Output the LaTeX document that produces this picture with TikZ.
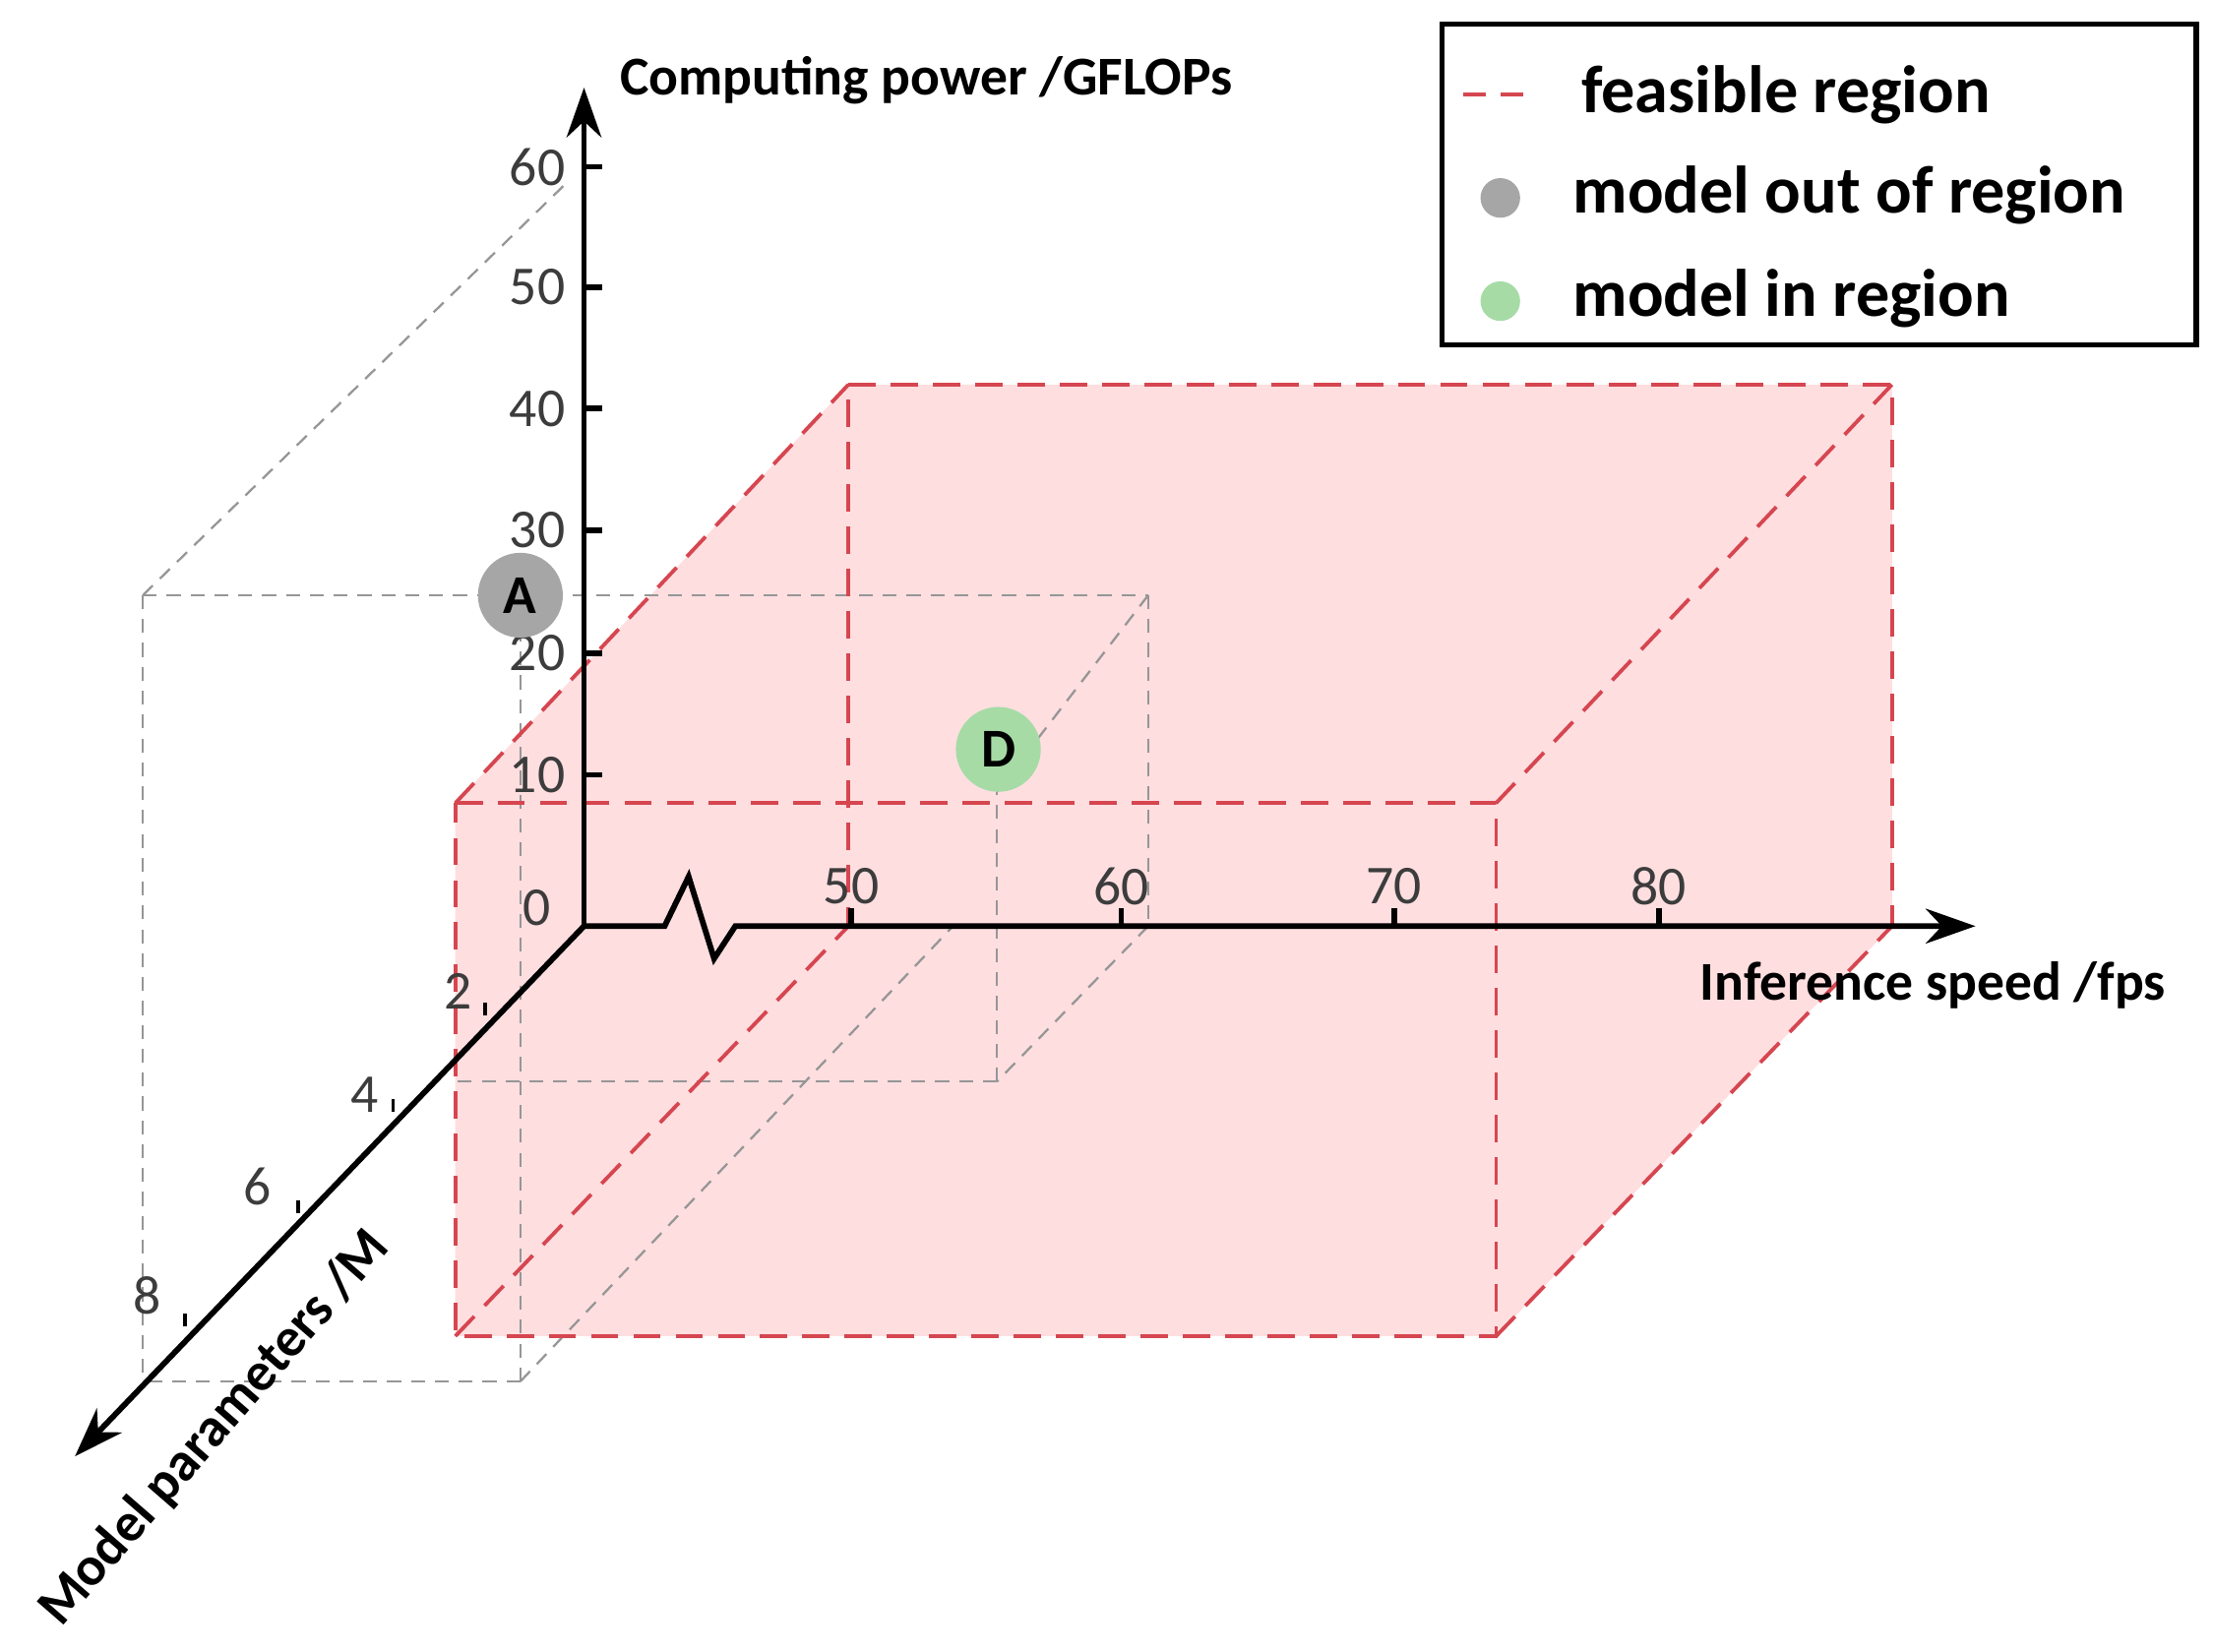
\documentclass[tikz,border=0pt]{standalone}
\usepackage{fontspec}
\setmainfont{Carlito}
\usetikzlibrary{arrows.meta}
\definecolor{regionred}{RGB}{214,70,80}
\definecolor{regionfill}{RGB}{255,222,224}
\definecolor{guidegray}{RGB}{150,150,150}
\definecolor{ticktext}{RGB}{60,60,60}
\begin{document}
\begin{tikzpicture}[x=0.01cm,y=-0.01cm,
    axis/.style={line width=1.15pt,draw=black},
    region/.style={draw=regionred,line width=0.75pt,dash pattern=on 5.5pt off 3pt},
    guide/.style={draw=guidegray,line width=0.45pt,dash pattern=on 2.8pt off 2pt},
    tick/.style={font=\fontsize{11}{13}\selectfont,text=ticktext},
    axislabel/.style={font=\fontsize{11}{13}\selectfont\bfseries},
    legendtext/.style={font=\fontsize{13.5}{16}\selectfont\bfseries,anchor=west},
    model/.style={circle,minimum size=0.6cm,inner sep=0pt,font=\fontsize{11}{13}\selectfont\bfseries}]
    \useasboundingbox (0,0) rectangle (1565,1168);

    % feasible region
    \coordinate (f1) at (322,568);
    \coordinate (f2) at (1058,568);
    \coordinate (f3) at (1058,945);
    \coordinate (f4) at (322,945);
    \coordinate (b1) at (600,272);
    \coordinate (b2) at (1338,272);
    \coordinate (b3) at (1338,655);
    \coordinate (b4) at (600,655);
    \fill[regionfill] (f1) -- (b1) -- (b2) -- (b3) -- (f3) -- (f4) -- cycle;

    % guide lines
    \coordinate (g1) at (101,421);
    \coordinate (g2) at (812,421);
    \coordinate (g3) at (812,655);
    \coordinate (g4) at (705,765);
    \coordinate (g5) at (320,765);
    \coordinate (g6) at (101,977);
    \coordinate (g7) at (368,977);
    \coordinate (g8) at (674,655);
    \coordinate (g9) at (400,130);
    \coordinate (g10) at (368,450);
    \coordinate (g11) at (705,560);
    \path[guide] (g1) edge (g2) edge (g6) edge (g9);
    \path[guide] (g2) edge (g3) edge (g11);
    \path[guide] (g3) edge (g4);
    \path[guide] (g4) edge (g5) edge (g11);
    \path[guide] (g7) edge (g6) edge (g10) edge (g8);

    \draw[region] (f1) -- (f2) -- (f3) -- (f4) -- cycle;
    \draw[region] (b1) -- (b2) -- (b3) -- (b4) -- cycle;
    \path[region] (f1) edge (b1) (f2) edge (b2) (f3) edge (b3) (f4) edge (b4);

    % axes
    \coordinate (O) at (413,655);
    \coordinate (ytop) at (413,62);
    \coordinate (xend) at (1397,655);
    \coordinate (zend) at (53,1030);
    \coordinate (k1) at (470,655);
    \coordinate (k2) at (487,620);
    \coordinate (k3) at (505,678);
    \coordinate (k4) at (520,655);
    \draw[axis,-{Stealth[length=10pt,width=7pt]}] (O) -- (ytop);
    \draw[axis,-{Stealth[length=10pt,width=7pt]},line join=miter] (O) -- (k1) -- (k2) -- (k3) -- (k4) -- (xend);
    \draw[axis,-{Stealth[length=10pt,width=7pt]}] (O) -- (zend);

    \foreach \v/\yy in {10/548,20/462,30/375,40/289,50/203,60/118}
        {\draw[axis] (413,\yy) -- (426,\yy);
         \node[tick] (y\v) at (380,\yy) {\v};}
    \foreach \v/\xx in {50/602,60/793,70/986,80/1173}
        {\draw[axis] (\xx,655) -- (\xx,642);
         \node[tick] (x\v) at (\xx,627) {\v};}
    \foreach \v/\xx/\yy/\lx/\ly in {2/343/718/324/701,4/278/786/258/774,6/211/858/182/839,8/131/938/104/916}
        {\draw[line width=0.7pt] (\xx,\yy) -- (\xx,\yy-9);
         \node[tick] (z\v) at (\lx,\ly) {\v};}
    \node[tick] (zero) at (380,642) {0};

    \node[axislabel] (ylabel) at (655,57) {Computing power /GFLOPs};
    \node[axislabel] (xlabel) at (1367,697) {Inference speed /fps};
    \node[axislabel,rotate=49] (zlabel) at (152,1010) {Model parameters /M};

    % models
    \node[model,fill=guidegray!85] (A) at (368,421) {A};
    \node[model,fill=green!60!black!35] (D) at (706,530) {D};

    % legend
    \node[draw,line width=1pt,minimum width=5.33cm,minimum height=2.27cm] (legend) at (1286.5,130.5) {};
    \coordinate (l1) at (1035,67);
    \coordinate (l2) at (1085,67);
    \draw[region,dash pattern=on 4.5pt off 3pt] (l1) -- (l2);
    \node[legendtext] (ltext1) at (1106,67) {feasible region};
    \fill[guidegray!85] (1061,140) circle (14);
    \node[legendtext] (ltext2) at (1100,138) {model out of region};
    \fill[green!60!black!35] (1061,213) circle (14);
    \node[legendtext] (ltext3) at (1100,211) {model in region};
\end{tikzpicture}
\end{document}
